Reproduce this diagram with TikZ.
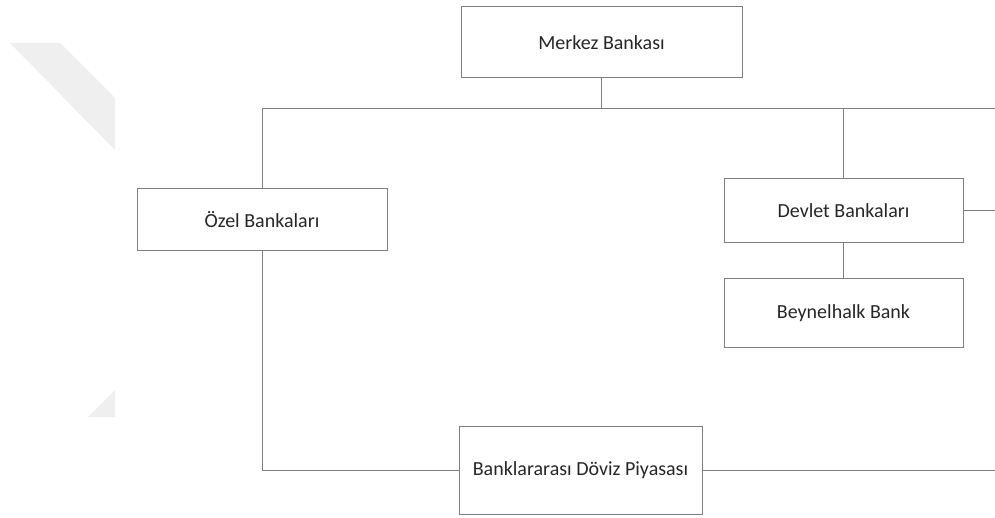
\documentclass[tikz,border=0pt]{standalone}
\usepackage{fontspec}
\setmainfont{Carlito}
\usetikzlibrary{calc}
\definecolor{kutu}{HTML}{7F7F7F}
\definecolor{yazi}{HTML}{262626}
\definecolor{filigran}{HTML}{EFEFEF}

\begin{document}
\begin{tikzpicture}[x=1pt,y=-1pt,
            banka/.style={draw=kutu,line width=1pt,text=yazi,inner sep=0pt,font=\fontsize{20}{24}\selectfont},
            hat/.style={draw=kutu,line width=1pt}]
            \useasboundingbox (0,0) rectangle (995,518);
            \fill[filigran] (10,43) -- (60,43) -- (115,98) -- (115,150) -- cycle;
            \fill[filigran] (88,417) -- (115,390) -- (115,417) -- cycle;
            \node[banka,minimum width=281pt,minimum height=71pt] (merkez) at (601.5,42.5) {Merkez Bankası};
            \node[banka,minimum width=250pt,minimum height=62pt] (ozel) at (262,220) {Özel Bankaları};
            \node[banka,minimum width=239pt,minimum height=64pt] (devlet) at (843.5,211) {Devlet Bankaları};
            \node[banka,minimum width=239pt,minimum height=68pt] (beynel) at (843.5,313) {Beynelhalk Bank};
            \node[banka,minimum width=243pt,minimum height=88pt] (piyasa) at (580.5,470) {Banklararası Döviz Piyasası};
            \coordinate (busL) at (262,109);
            \coordinate (busR) at (995,109);
            \coordinate (sagD) at (995,211);
            \coordinate (sagP) at (995,470);
            \draw[hat] (busL) -- (busR);
            \draw[hat] (merkez.south) -- (merkez.south |- busL);
            \draw[hat] (ozel.north) -- (busL);
            \draw[hat] (devlet.north) -- (devlet.north |- busL);
            \draw[hat] (devlet.east) -- (sagD);
            \draw[hat] (devlet.south) -- (beynel.north);
            \draw[hat] (ozel.south) |- (piyasa.west);
            \draw[hat] (piyasa.east) -- (sagP);
        \end{tikzpicture}
\end{document}
